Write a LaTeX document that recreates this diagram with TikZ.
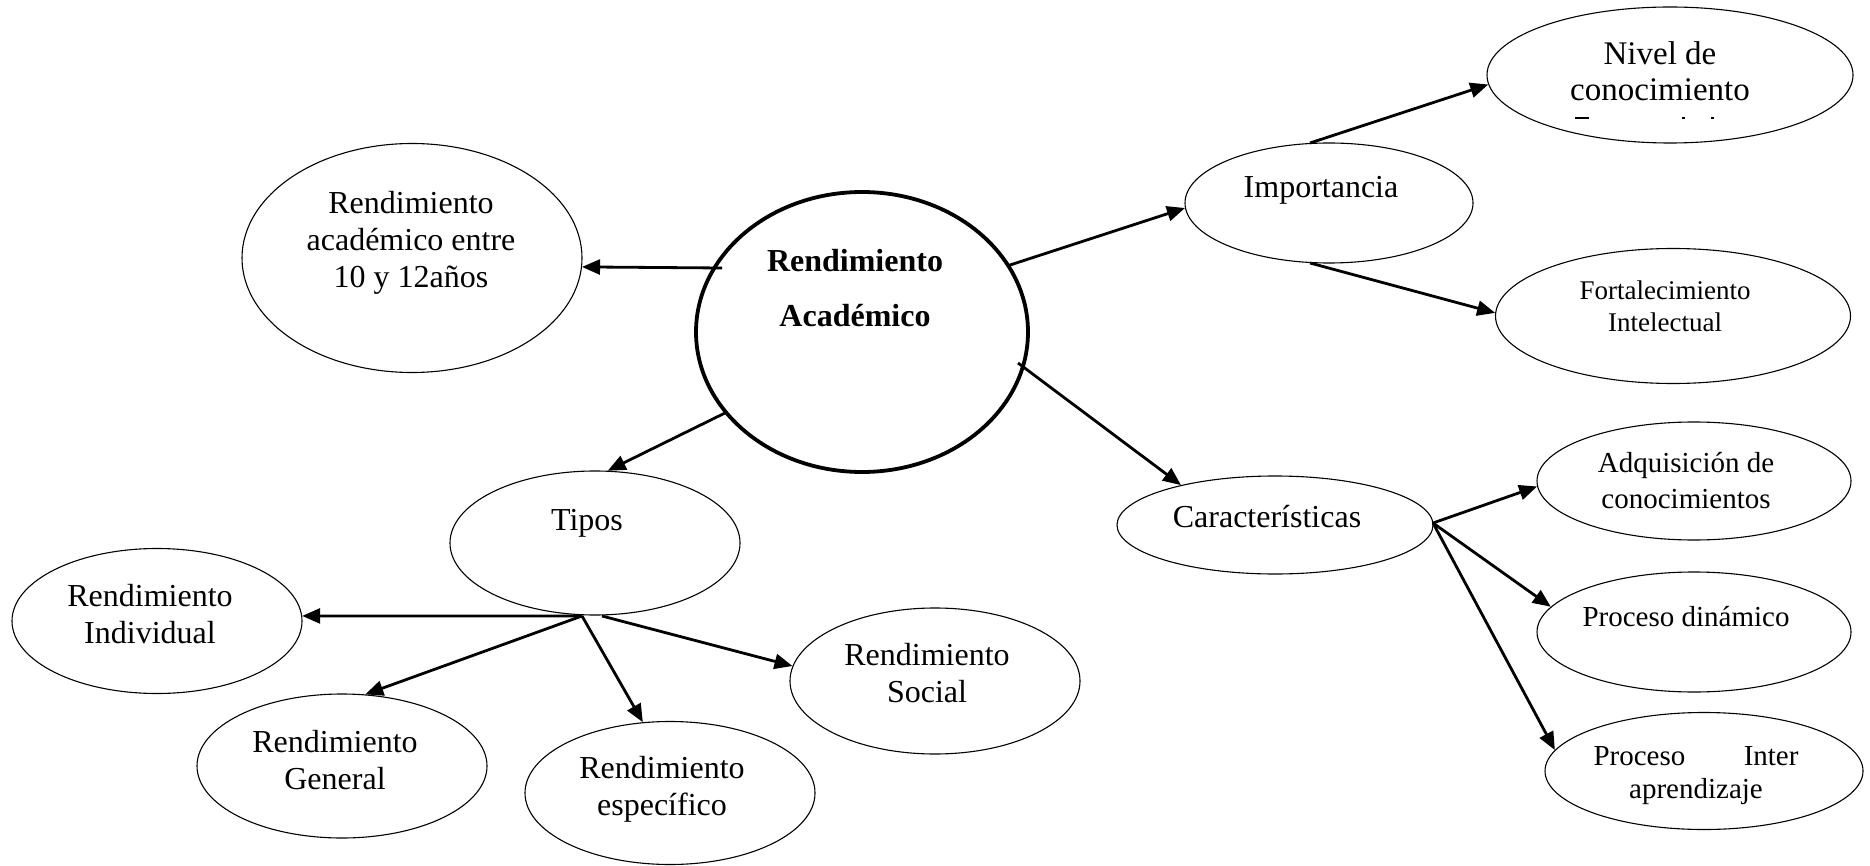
\documentclass[tikz,border=0pt]{standalone}
\usepackage{fontspec}
\setmainfont{Liberation Serif}
\usetikzlibrary{shapes.geometric,arrows.meta}
\newcommand\mlt[1]{\begin{tabular}[t]{@{}c@{}}#1\end{tabular}}
\begin{document}
\begin{tikzpicture}[x=1pt,y=-1pt,
  ell/.style={draw,ellipse,line width=1.1pt,inner sep=0pt},
  txt/.style={anchor=base,inner sep=0pt,font=\fontsize{32}{37}\selectfont},
  smalltxt/.style={anchor=base,inner sep=0pt,font=\fontsize{29}{36}\selectfont},
  con/.style={line width=2.8pt,-{Triangle[length=18pt,width=15pt]}}
]
\useasboundingbox (0,0) rectangle (1870,866);
\fill[white] (0,0) rectangle (1870,866);

% ellipses
\node[ell,minimum width=366pt,minimum height=136pt] (nivel) at (1670,75) {};
\node[ell,minimum width=288pt,minimum height=120pt] (imp) at (1329,203) {};
\node[ell,minimum width=355pt,minimum height=135pt] (fort) at (1673,316) {};
\node[ell,minimum width=340pt,minimum height=229pt] (rae) at (412,258) {};
\node[ell,line width=3.8pt,minimum width=332pt,minimum height=280pt] (cen) at (862,332) {};
\node[ell,minimum width=290pt,minimum height=144pt] (tipos) at (595,543) {};
\node[ell,minimum width=316pt,minimum height=98pt] (car) at (1275,525) {};
\node[ell,minimum width=314pt,minimum height=118pt] (adq) at (1694,481) {};
\node[ell,minimum width=314pt,minimum height=120pt] (pd) at (1694,632) {};
\node[ell,minimum width=318pt,minimum height=117pt] (pi) at (1704,771) {};
\node[ell,minimum width=290pt,minimum height=145pt] (ind) at (157,621) {};
\node[ell,minimum width=290pt,minimum height=144pt] (gen) at (342,766) {};
\node[ell,minimum width=290pt,minimum height=143pt] (esp) at (670,793) {};
\node[ell,minimum width=290pt,minimum height=146pt] (soc) at (935,681) {};

% texts
\node[txt,font=\fontsize{33}{36}\selectfont] (nivelT) at (1660,65) {\mlt{Nivel de\\conocimiento}};
% cut-off tops of a third line of text
\fill (1575,117) rectangle (1589,119);
\fill (1682,117) rectangle (1685,119);
\fill (1711,117) rectangle (1714,119);
\node[txt] (impT) at (1321,198) {Importancia};
\node[txt,font=\fontsize{27}{32}\selectfont] (fortT) at (1665,300) {\mlt{Fortalecimiento\\Intelectual}};
\node[txt] (raeT) at (411,214) {\mlt{Rendimiento\\académico entre\\10 y 12años}};
\node[txt,font=\fontsize{32}{55}\selectfont\bfseries] (cenT) at (855,272) {\mlt{Rendimiento\\Académico}};
\node[txt] (tiposT) at (587,530) {Tipos};
\node[txt] (carT) at (1267,527) {Características};
\node[smalltxt] (adqT) at (1686,472) {\mlt{Adquisición de\\conocimientos}};
\node[smalltxt] (pdT) at (1686,626) {Proceso dinámico};
\node[smalltxt,font=\fontsize{29}{33}\selectfont] (piT) at (1696,765) {\mlt{\hbox to 205pt{Proceso\hfill Inter}\\aprendizaje}};
\node[txt] (indT) at (150,606) {\mlt{Rendimiento\\Individual}};
\node[txt] (genT) at (335,752) {\mlt{Rendimiento\\General}};
\node[txt] (espT) at (662,778) {\mlt{Rendimiento\\específico}};
\node[txt] (socT) at (927,665) {\mlt{Rendimiento\\Social}};

% connector start points
\coordinate (s1) at (722,268);
\coordinate (s2) at (1007,266);
\coordinate (s3) at (1310,143);
\coordinate (s4) at (1310,263);
\coordinate (s5) at (1018,363);
\coordinate (s6) at (727,412);
\coordinate (s7) at (1433,523);
\coordinate (s8) at (582,616);
\coordinate (s9) at (602,616);

% connectors
\draw[con] (s1) -- (rae.-3.7);
\draw[con] (s2) -- (imp.182.8);
\draw[con] (s3) -- (nivel.183.1);
\draw[con] (s4) -- (fort.179);
\draw[con] (s5) -- (car.157.6);
\draw[con] (s6) -- (tipos.80.8);
\draw[con] (s7) -- (adq.182.3);
\draw[con] (s7) -- (pd.170.4);
\draw[con] (s7) -- (pi.172.2);
\draw[con] (s8) -- (ind.2);
\draw[con] (s8) -- (gen.72.1);
\draw[con] (s8) -- (esp.111.5);
\draw[con] (s9) -- (soc.174.9);
\end{tikzpicture}
\end{document}
